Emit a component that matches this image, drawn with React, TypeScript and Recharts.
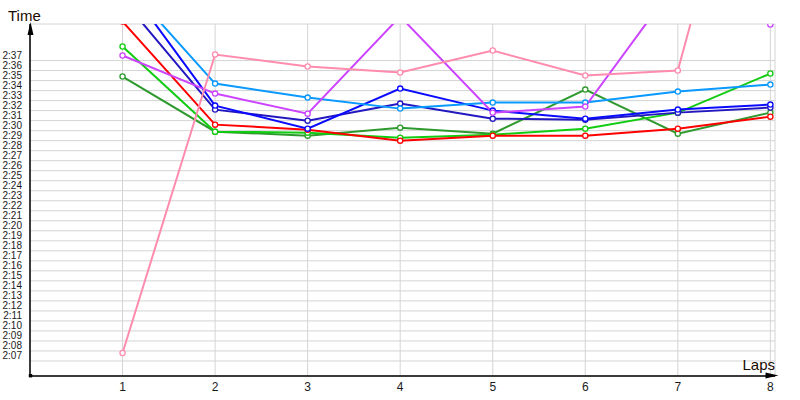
import { LineChart, Line, XAxis, YAxis, CartesianGrid } from 'recharts';

// lap times in seconds (2:00 = 120)
const laps = [1, 2, 3, 4, 5, 6, 7, 8];
const red = [160.9, 150.6, 150.1, 149.0, 149.5, 149.5, 150.2, 151.4];
const darkBlue = [163.1, 152.1, 151.0, 152.7, 151.2, 151.1, 151.8, 152.3];
const blue = [165.1, 152.5, 150.2, 154.2, 152.0, 151.2, 152.1, 152.6];
const lightBlue = [165.0, 154.7, 153.3, 152.2, 152.8, 152.8, 153.9, 154.6];
const purple = [157.5, 153.7, 151.7, 161.4, 151.8, 152.4, 165.0, 160.6];
const pink = [127.8, 157.6, 156.4, 155.8, 158.0, 155.5, 156.0, 190.0];
const green = [158.4, 149.9, 149.8, 149.3, 149.6, 150.2, 151.8, 155.7];
const darkGreen = [155.4, 149.9, 149.5, 150.3, 149.7, 154.1, 149.7, 151.8];

const yTicks = Array.from({ length: 31 }, (_, i) => 127 + i);

const series = [
  { key: 'darkGreen', color: '#2e9a2e', values: darkGreen },
  { key: 'green', color: '#11cc11', values: green },
  { key: 'red', color: '#ff0000', values: red },
  { key: 'darkBlue', color: '#2318c0', values: darkBlue },
  { key: 'blue', color: '#0a0aff', values: blue },
  { key: 'lightBlue', color: '#0a99ff', values: lightBlue },
  { key: 'purple', color: '#cc44ff', values: purple },
  { key: 'pink', color: '#ff8cae', values: pink },
];

const data = laps.map((lap, i) => {
  const row: Record<string, number> = { lap };
  series.forEach((s) => (row[s.key] = s.values[i]));
  return row;
});

const fmt = (v: number) => `${Math.floor(v / 60)}:${String(Math.round(v % 60)).padStart(2, '0')}`;

const FONT = '"Liberation Sans", Arial, sans-serif';

function YTick({ x, y, payload }: any) {
  return (
    <text x={x} y={y - 5.5} dy="0.35em" textAnchor="end" fontSize={10} fontFamily={FONT} fill="#1a1a1a">
      {fmt(payload.value)}
    </text>
  );
}

export default function App() {
  return (
    <div style={{ position: 'absolute', left: 0, top: 0, width: 800, height: 400, background: '#fff' }}>
      <LineChart width={800} height={400} data={data} margin={{ top: 24, right: 25, left: 0, bottom: 0 }}>
        <CartesianGrid stroke="#d4d4d4" strokeWidth={1} />
        <XAxis
          dataKey="lap"
          type="number"
          domain={[0, 8.05]}
          ticks={laps}
          height={24}
          tickLine={false}
          tickSize={0}
          tickMargin={6}
          axisLine={{ stroke: '#000', strokeWidth: 1.5 }}
          tick={{ fill: '#1a1a1a', fontSize: 12, fontFamily: FONT }}
        />
        <YAxis
          type="number"
          domain={[125.5, 160.65]}
          allowDataOverflow
          ticks={yTicks}
          interval={0}
          width={30}
          tickLine={false}
          tickSize={0}
          tickMargin={8}
          axisLine={{ stroke: '#000', strokeWidth: 1.5 }}
          tick={<YTick />}
        />
        {series.map((s) => (
          <Line
            key={s.key}
            dataKey={s.key}
            type="linear"
            stroke={s.color}
            strokeWidth={2}
            dot={{ r: 2.6, fill: '#fff', stroke: s.color, strokeWidth: 1.3 }}
            activeDot={false}
            isAnimationActive={false}
          />
        ))}
      </LineChart>
      <svg width={800} height={400} style={{ position: 'absolute', left: 0, top: 0, pointerEvents: 'none' }}>
        <polygon points="30.5,22 27.5,35 33.5,35" fill="#000" />
        <polygon points="778.5,375.5 765.5,372.5 765.5,378.5" fill="#000" />
        <rect x={28.8} y={374} width={3.4} height={3.4} fill="#000" />
        <text x={8} y={20.7} fontSize={15} fontFamily={FONT} fill="#1a0a00">Time</text>
        <text x={775} y={369.5} fontSize={15} fontFamily={FONT} fill="#1a0a00" textAnchor="end">Laps</text>
      </svg>
    </div>
  );
}
